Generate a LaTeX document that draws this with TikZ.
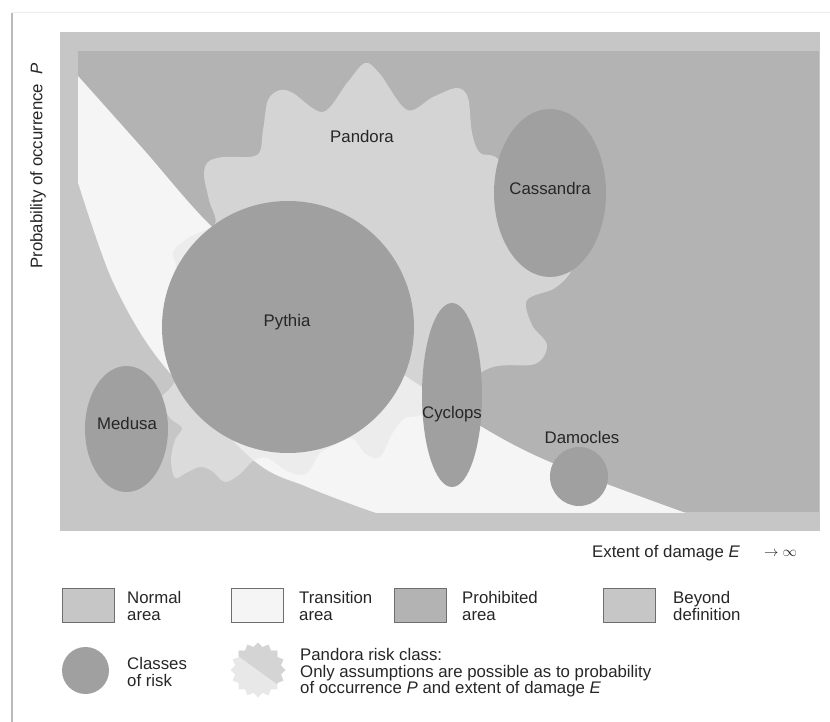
\documentclass[tikz,border=0pt]{standalone}
\usepackage{fontspec}
\setmainfont{Liberation Sans}
\usepackage{tikz}
\usetikzlibrary{positioning}
\usetikzlibrary{shapes.geometric}
\definecolor{beyondgray}{HTML}{C6C6C6}
\definecolor{normalgray}{HTML}{C6C6C6}
\definecolor{transgray}{HTML}{F5F5F5}
\definecolor{prohibgray}{HTML}{B3B3B3}
\definecolor{riskgray}{HTML}{A0A0A0}
\definecolor{pandoragray}{HTML}{E7E7E7}
\definecolor{edgegray}{HTML}{6E6E6E}
\definecolor{textgray}{HTML}{262626}

\begin{document}
\begin{tikzpicture}[x=1pt, y=-1pt,
		risk/.style={ellipse, fill=riskgray, inner sep=0pt},
		legendbox/.style={draw=edgegray, line width=1.1pt, minimum width=52pt, minimum height=34pt, inner sep=0pt, anchor=north west},
		legendtext/.style={anchor=west, align=left, inner sep=0pt},
		pandorastar/.style={star, star points=16, star point ratio=1.18, minimum size=55pt, inner sep=0pt},
		every node/.style={font=\fontsize{16.8}{16.6}\selectfont, text=textgray}]
	\useasboundingbox (0,0) rectangle (830,722);
	\draw[black!7, line width=1pt] (12,13) -- (830,13);
	\draw[black!27, line width=1.6pt] (12,13) -- (12,722);
	
	\fill[beyondgray] (60,32) rectangle (820,531);
	\fill[prohibgray] (78,51) rectangle (819,512);
	\begin{scope}
		\clip (78,51) rectangle (819,512);
		\fill[transgray] plot[smooth] coordinates {(78,76) (144,150) (210,225) (310,315) (407,377) (482,427) (550,462) (683,512) (740,530)} -- (78,530) -- cycle;
		\fill[normalgray] plot[smooth] coordinates {(78,183) (112,280) (159,360) (253,460) (307,487) (373,512) (420,525)} -- (78,530) -- cycle;
		\fill[pandoragray, fill opacity=0.64] plot[smooth cycle, tension=0.55] coordinates {
			(365,63) (380,74) (407,110) (433,97) (457,88) (468,98) (472,133) (480,153) (497,158)
			(530,190) (565,238) (572,268) (555,288) (527,300) (532,325) (547,345) (535,364) (490,368)
			(440,400) (422,415) (405,418) (393,432) (380,457) (366,454) (352,438) (335,445) (320,453)
			(306,474) (287,471) (268,458) (253,461) (240,474) (225,482) (212,471) (200,467) (186,473)
			(175,478) (171,460) (175,440) (182,428) (170,418) (160,400) (172,386) (185,360) (172,320)
			(176,268) (173,252) (190,237) (215,224) (209,200) (204,175) (208,162) (223,157) (257,155)
			(263,130) (268,100) (280,90) (293,93) (323,112) (347,83)};
	\end{scope}
	
	\node[risk, minimum width=252pt, minimum height=252pt] (pythia) at (288,327) {};
	\node[risk, minimum width=83pt, minimum height=126pt] (medusa) at (126.5,429) {};
	\node[risk, minimum width=112pt, minimum height=168pt] (cassandra) at (550,193) {};
	\node[risk, minimum width=60pt, minimum height=184pt] (cyclops) at (452,395) {};
	\node[risk, minimum width=58pt, minimum height=59pt] (damocles) at (579,476.5) {};
	
	\node (pandoralabel) at (362,136) {Pandora};
	\node (cassandralabel) at (550,188) {Cassandra};
	\node (pythialabel) at (287,322) {Pythia};
	\node (medusalabel) at (127,423) {Medusa};
	\node (cyclopslabel) at (452,414) {Cyclops};
	\node (damocleslabel) at (582,437) {Damocles};
	
	\node[rotate=90, inner sep=0pt] (ylabel) at (38,166) {Probability of occurrence\hspace{0.55em}\textit{P}};
	\node[anchor=west, inner sep=0pt] (xlabel) at (592,553) {Extent of damage \textit{E}};
	\node[anchor=west, inner sep=0pt, font=\fontsize{14}{14}\selectfont] (infty) at (764,553) {$\to\infty$};
	
	\node[legendbox, fill=normalgray] (normalbox) at (62,588) {};
	\node[legendtext] (normaltext) at (127,606) {Normal\\area};
	\node[legendbox, fill=transgray] (transbox) at (231,588) {};
	\node[legendtext] (transtext) at (299,606) {Transition\\area};
	\node[legendbox, fill=prohibgray] (prohibbox) at (394,588) {};
	\node[legendtext] (prohibtext) at (462,606) {Prohibited\\area};
	\node[legendbox, fill=beyondgray] (beyondbox) at (603,588) {};
	\node[legendtext] (beyondtext) at (673,606) {Beyond\\definition};
	
	\node[risk, minimum size=47pt] (riskdot) at (85.5,670.5) {};
	\node[legendtext] (risktext) at (127,672) {Classes\\of risk};
	\node[pandorastar, fill=black!9] (pandoraicon) at (258,670) {};
	\begin{scope}
		\clip (225,640) -- (237,655) -- (285,690) -- (300,690) -- (300,640) -- cycle;
		\node[pandorastar, fill=black!17] (pandoraiconhalf) at (258,670) {};
	\end{scope}
	\node[legendtext] (pandoratext) at (300,673) {Pandora risk class:\\Only assumptions are possible as to probability\\of occurrence \textit{P} and extent of damage \textit{E}};
\end{tikzpicture}
\end{document}
